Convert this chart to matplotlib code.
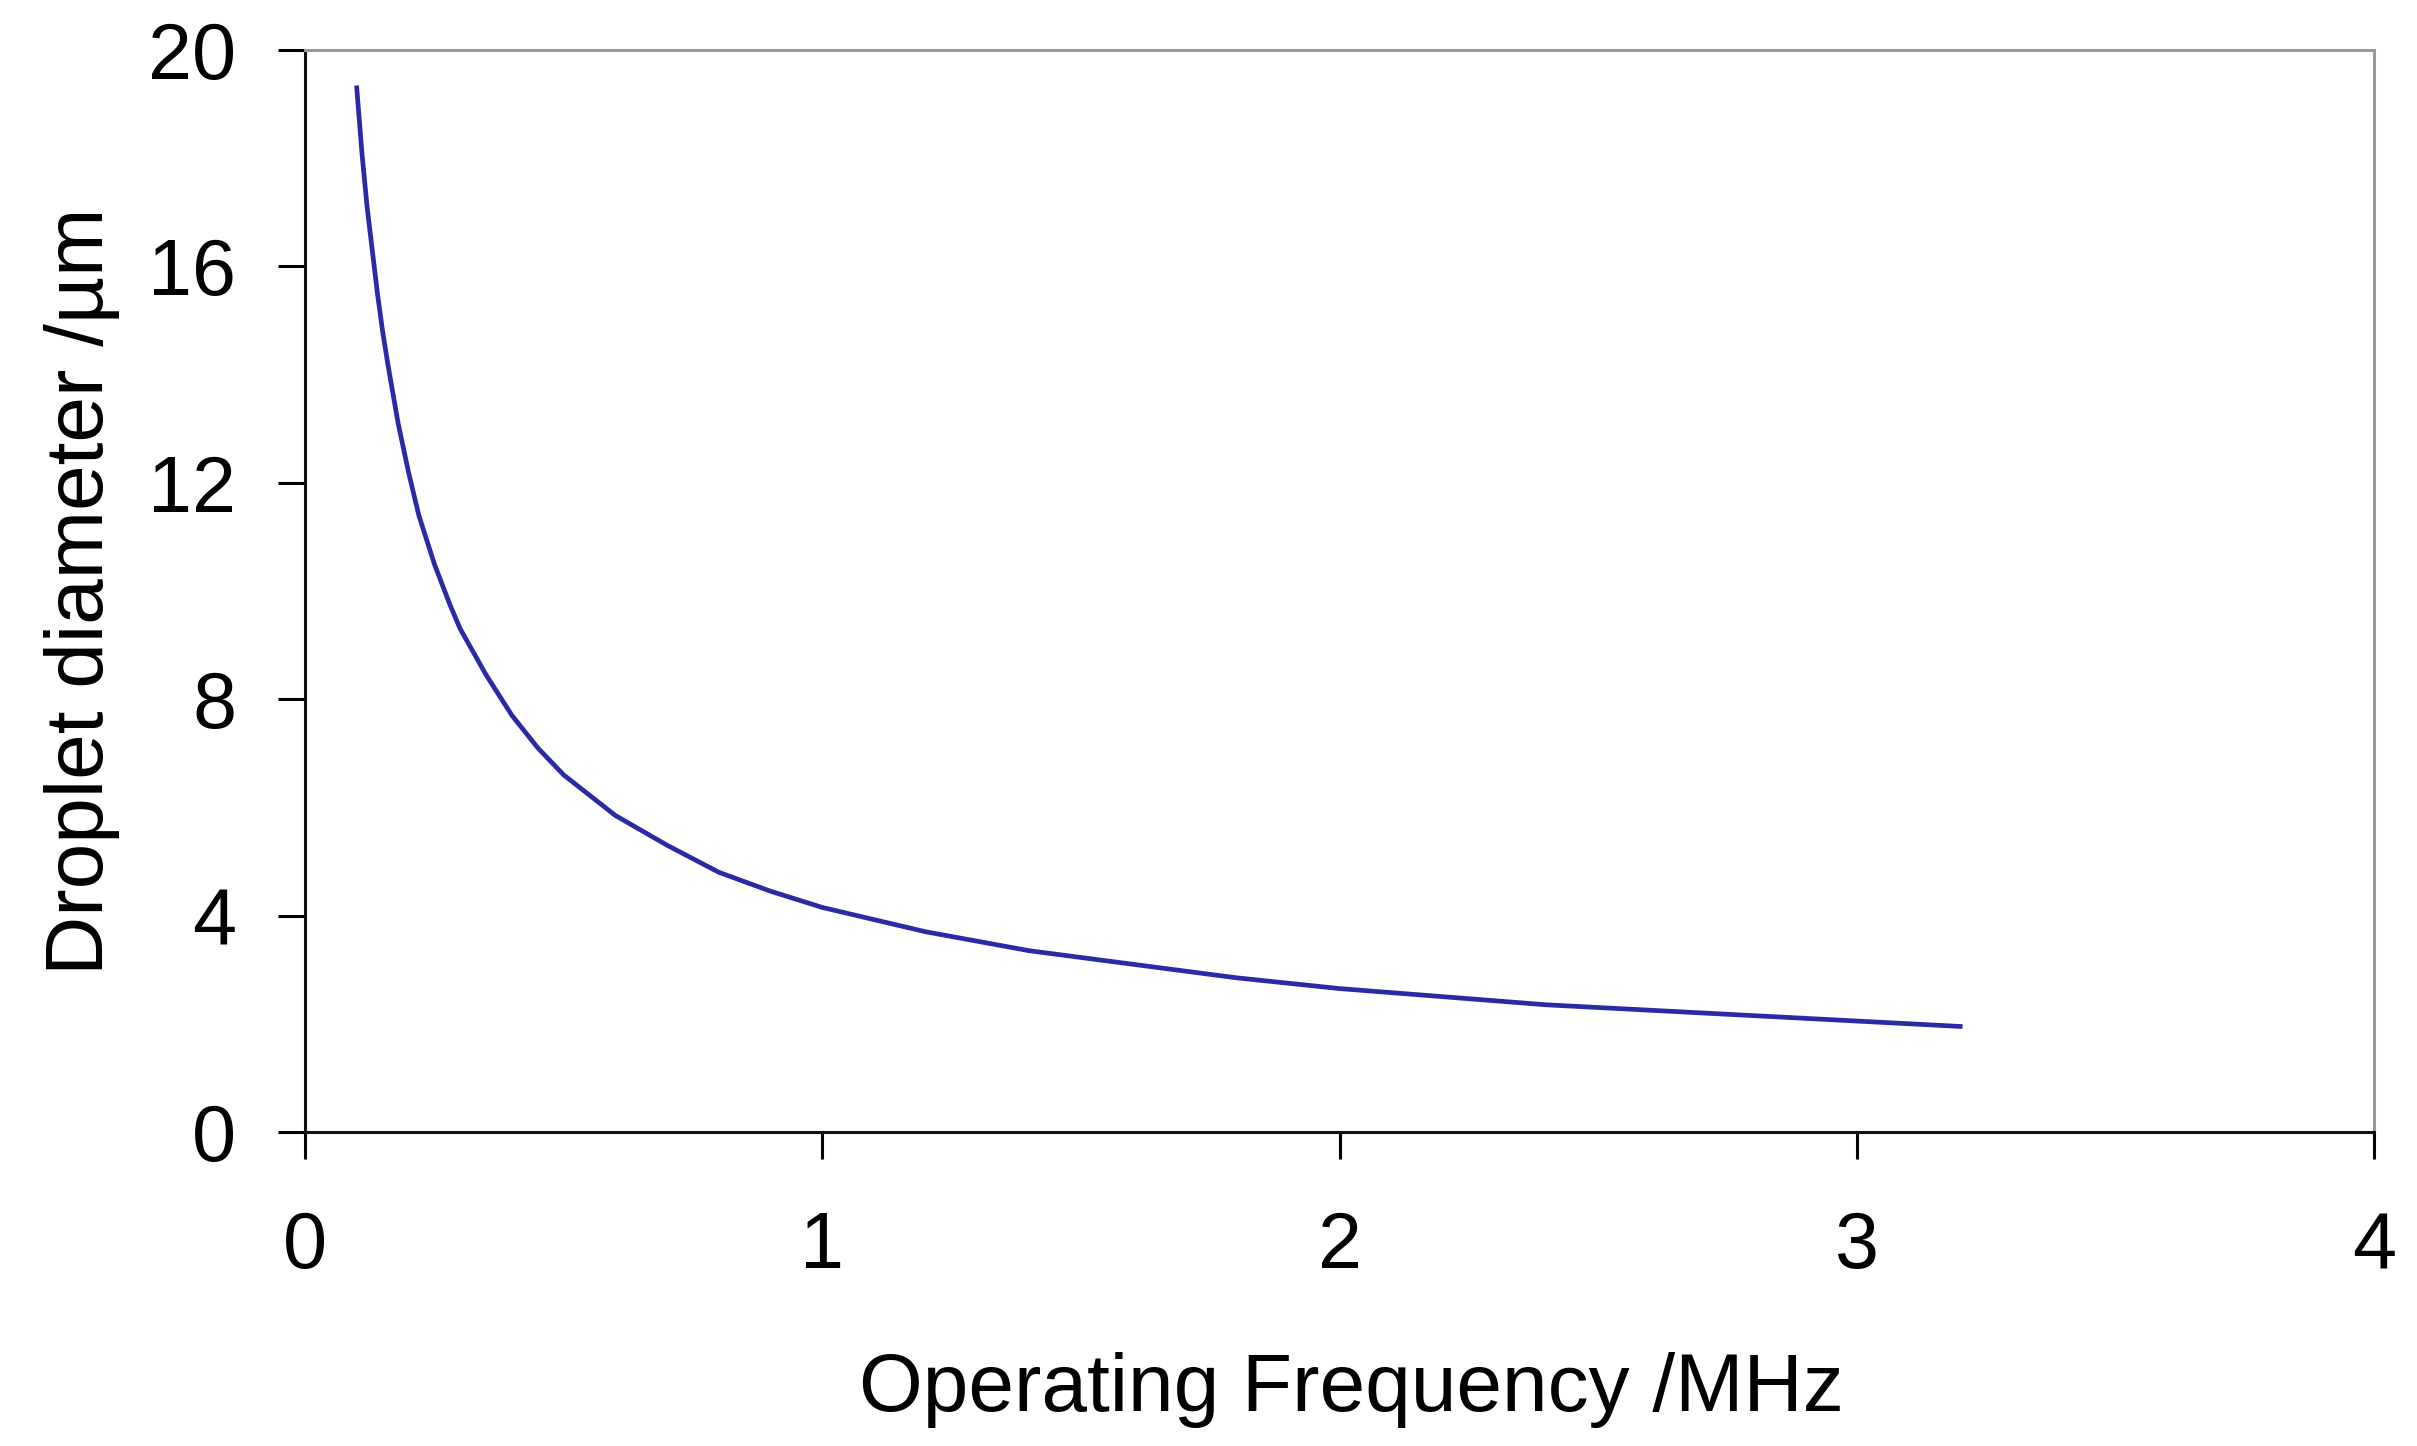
import numpy as np
import matplotlib
matplotlib.use("Agg")
import matplotlib.pyplot as plt

plt.rcParams["font.family"] = ["Liberation Sans", "DejaVu Sans"]

# values
frequency_mhz = [0.1, 0.11, 0.12, 0.13, 0.14, 0.15, 0.16, 0.18, 0.2, 0.22, 0.25,
                 0.28, 0.3, 0.35, 0.4, 0.45, 0.5, 0.6, 0.7, 0.8, 0.9,
                 1.0, 1.2, 1.4, 1.6, 1.8, 2.0, 2.2, 2.4, 2.6, 2.8, 3.0, 3.2]
diameter_um = [19.3, 18.1, 17.1, 16.3, 15.5, 14.8, 14.2, 13.1, 12.2, 11.4, 10.5,
               9.75, 9.3, 8.45, 7.7, 7.1, 6.6, 5.85, 5.3, 4.8, 4.45,
               4.15, 3.7, 3.35, 3.1, 2.85, 2.65, 2.5, 2.35, 2.25, 2.15, 2.05, 1.95]

x_ticks = [0, 1, 2, 3, 4]
y_ticks = [0, 4, 8, 12, 16, 20]

fig = plt.figure(figsize=(24.17, 14.46), dpi=100)
ax = fig.add_axes([0.1262, 0.2172, 0.856, 0.7482])

ax.plot(frequency_mhz, diameter_um, color="#2a2aa6", lw=3.4)

ax.set_xlim(0, 4)
ax.set_ylim(0, 20)
ax.set_xticks(x_ticks)
ax.set_yticks(y_ticks)

ax.tick_params(axis="both", direction="out", length=19.5, width=2.2,
               labelsize=57, colors="black")
ax.tick_params(axis="x", pad=37)
ax.tick_params(axis="y", pad=30)

for side in ["left", "bottom"]:
    ax.spines[side].set_color("#111111")
    ax.spines[side].set_linewidth(2.2)
for side in ["top", "right"]:
    ax.spines[side].set_color("#999999")
    ax.spines[side].set_linewidth(2.2)

ax.set_xlabel("Operating Frequency /MHz", fontsize=59, labelpad=48)
ax.xaxis.label.set_x(0.506)
ax.set_ylabel("Droplet diameter /µm", fontsize=59, labelpad=20)

fig.savefig("out.png", dpi=100, facecolor="white")
